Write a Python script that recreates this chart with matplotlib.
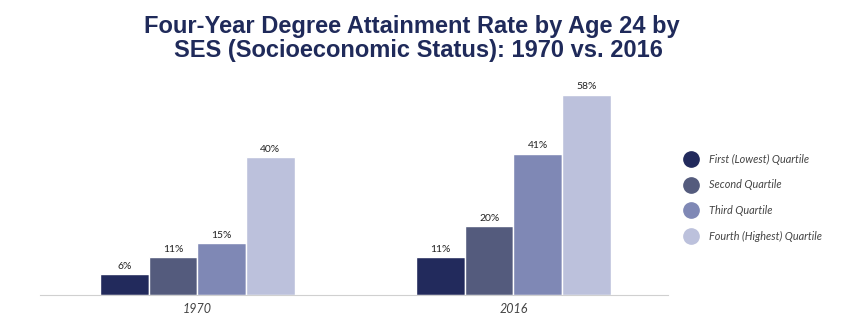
import matplotlib.pyplot as plt
import numpy as np

years = ['1970', '2016']
quartiles = ['First (Lowest) Quartile', 'Second Quartile',
             'Third Quartile', 'Fourth (Highest) Quartile']
# percent attaining a four-year degree by age 24, per quartile
rates = [
    [6, 11],
    [11, 20],
    [15, 41],
    [40, 58],
]
colors = ['#222a5c', '#545b7d', '#7f88b5', '#bcc1dc']
title_color = '#1f2a5a'

fig = plt.figure(figsize=(8.49, 3.33), dpi=100)
ax = fig.add_axes([40 / 849, 38 / 333, 628 / 849, 215 / 333])

x = np.arange(len(years))
w = 0.154
for i, (q, vals) in enumerate(zip(quartiles, rates)):
    pos = x + (i - 1.5) * w
    bars = ax.bar(pos, vals, width=w, color=colors[i], edgecolor='white',
                  linewidth=1, label=q)
    for b, v in zip(bars, vals):
        ax.text(b.get_x() + b.get_width() / 2, v + 1, f'{v}%',
                ha='center', va='bottom', fontsize=7.5, family='Lato',
                color='#222222')

ax.set_xlim(-0.498, 1.489)
ax.set_ylim(0, 62.3)
ax.set_xticks(x)
ax.set_xticklabels(years, fontsize=9, family='Lato', style='italic',
                   color='#444444')
ax.tick_params(axis='x', length=0, pad=6)
ax.set_yticks([])
for s in ['top', 'right', 'left']:
    ax.spines[s].set_visible(False)
ax.spines['bottom'].set_color('#d0d0d0')

# two-line title, second line nudged right
title_kw = dict(fontsize=17, fontweight='bold', family='Liberation Sans',
                color=title_color, ha='center', va='center')
fig.text(412 / 849, 1 - 26 / 333,
         'Four-Year Degree Attainment Rate by Age 24 by', **title_kw)
fig.text(418 / 849, 1 - 51 / 333,
         'SES (Socioeconomic Status): 1970 vs. 2016', **title_kw)

# legend drawn as circles with italic labels
ys = [159, 185, 210, 236]
for c, q, yy in zip(colors, quartiles, ys):
    fig.lines.append(plt.Line2D([691 / 849], [1 - yy / 333], marker='o',
                                markersize=11, color=c, linestyle='',
                                transform=fig.transFigure))
    fig.text(709 / 849, 1 - yy / 333, q, fontsize=7.8, family='Lato',
             style='italic', color='#444444', va='center')

fig.savefig('out.png', dpi=100)
